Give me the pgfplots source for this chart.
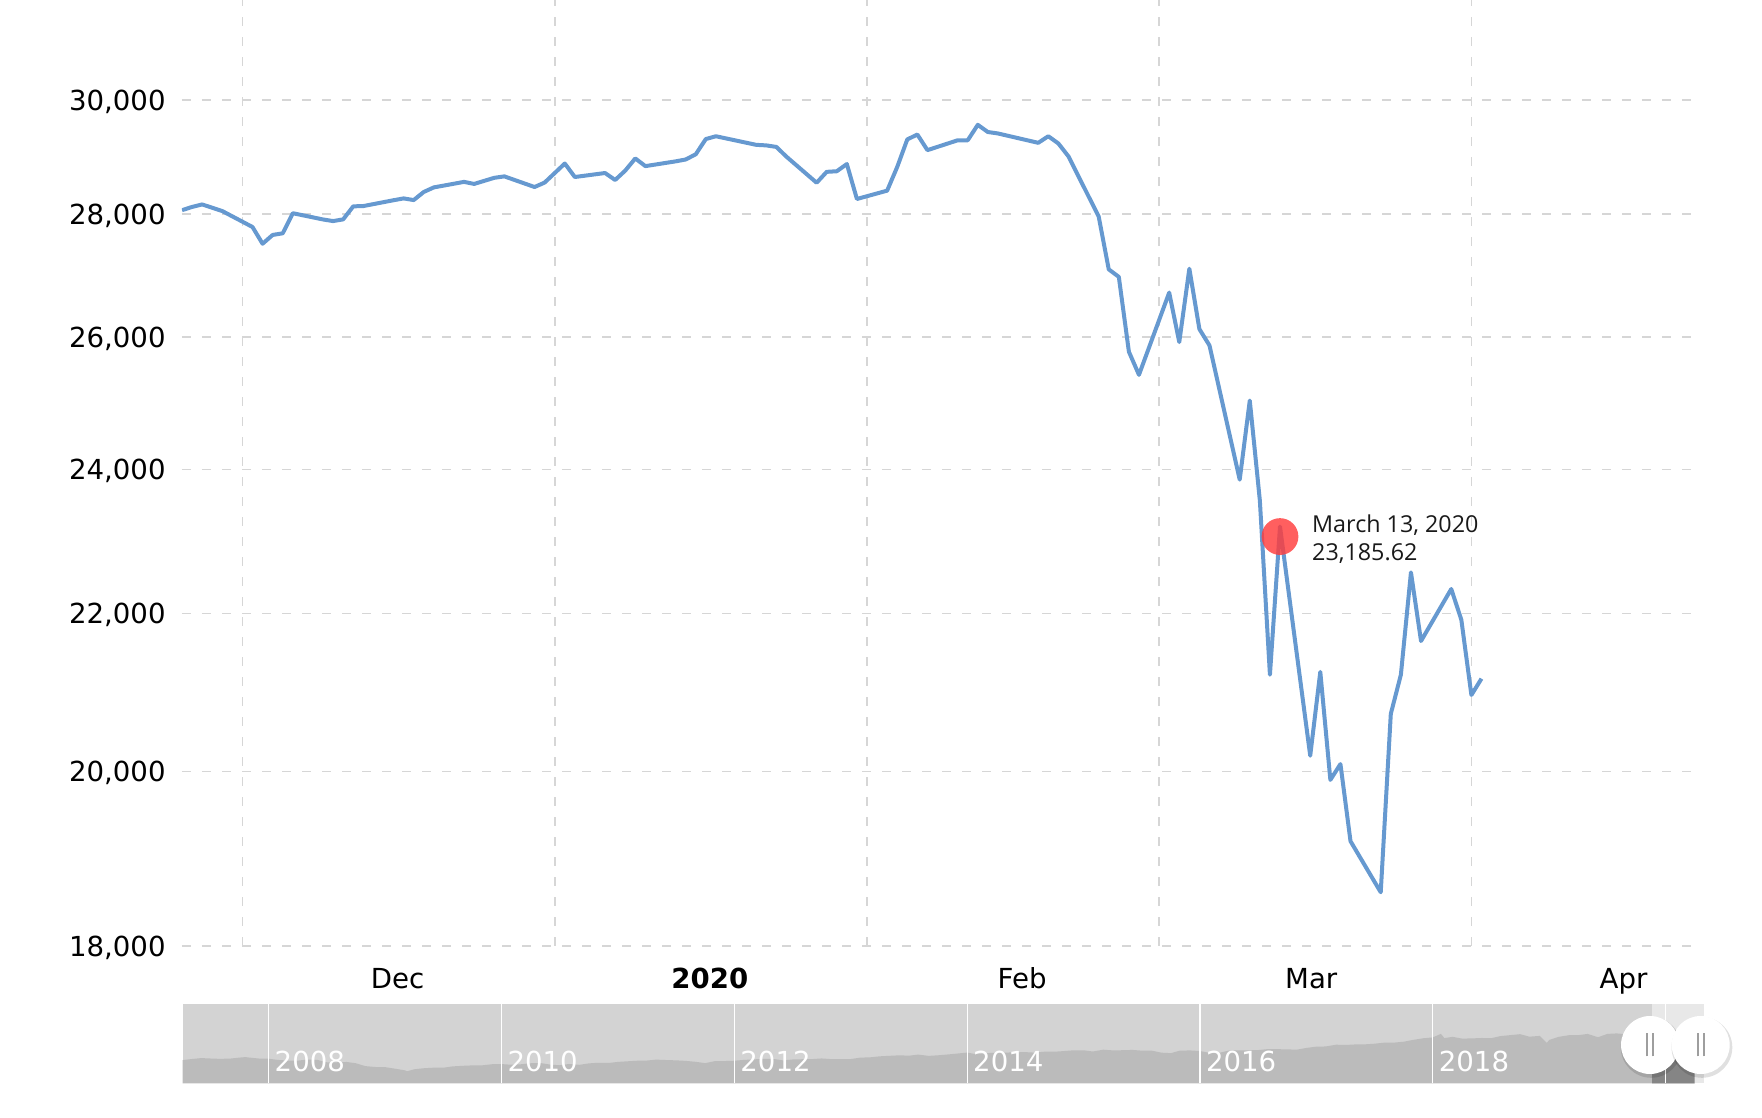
\documentclass[border=0pt]{standalone}
\usepackage{pgfplots}
\pgfplotsset{compat=1.18}
\usepackage{fontspec}
\setmainfont{DejaVu Sans}
\newfontfamily\tipfont{Open Sans}
\definecolor{linecolor}{RGB}{102,153,208}
\definecolor{gridgray}{RGB}{214,214,214}
\definecolor{navbg}{RGB}{211,211,211}
\definecolor{navarea}{RGB}{187,187,187}
\definecolor{selbg}{RGB}{232,232,232}
\definecolor{seldark}{RGB}{133,133,133}
\definecolor{markred}{RGB}{255,60,60}
\newcommand\ticksfont{\fontsize{13.8pt}{16pt}\selectfont}
\begin{document}
\begin{tikzpicture}
\begin{axis}[
  at={(91pt,86pt)}, anchor=south west, scale only axis,
  width=755.5pt, height=473pt,
  xmin=-6, xmax=144,
  ymode=log, ymin=18000, ymax=31869,
  ytick={18000,20000,22000,24000,26000,28000,30000},
  yticklabels={{18,000},{20,000},{22,000},{24,000},{26,000},{28,000},{30,000}},
  xtick={0,31,62,91,122}, xticklabels={},
  extra x ticks={15.4,46.4,77.4,106.1,137.1},
  extra x tick labels={Dec,\textbf{2020},Feb,Mar,Apr},
  extra x tick style={grid=none, xticklabel style={anchor=base, yshift=-21.2pt}},
  grid=major,
  minor y tick num=0,
  major grid style={dash pattern=on 4.5pt off 5.5pt, color=gridgray, line width=0.8pt},
  axis line style={draw=none},
  tick style={draw=none},
  yticklabel style={anchor=east, inner sep=0pt, xshift=-8pt, text depth=0pt},
  tick label style={font=\ticksfont},
]
\addplot[color=linecolor, line width=2pt, line join=round] coordinates {
(-6,28066.47) (-5,28121.68) (-4,28164.00) (-2,28051.41)
(1,27783.04) (2,27502.81) (3,27649.78) (4,27677.79) (5,28015.06)
(8,27909.60) (9,27881.72) (10,27911.30) (11,28132.05) (12,28135.38)
(15,28235.89) (16,28267.16) (17,28239.28) (18,28376.96) (19,28455.09)
(22,28551.53) (23,28515.45) (25,28621.39) (26,28645.26) (29,28462.14) (30,28538.44)
(32,28868.80) (33,28634.88) (36,28703.38) (37,28583.68) (38,28745.09) (39,28956.90) (40,28823.77)
(43,28907.05) (44,28939.67) (45,29030.22) (46,29297.64) (47,29348.10)
(51,29196.04) (52,29186.27) (53,29160.09) (54,28989.73)
(57,28535.80) (58,28722.85) (59,28734.45) (60,28859.44) (61,28256.03)
(64,28399.81) (65,28807.63) (66,29290.85) (67,29379.77) (68,29102.51)
(71,29276.82) (72,29276.34) (73,29551.42) (74,29423.31) (75,29398.08)
(79,29232.19) (80,29348.03) (81,29219.98) (82,28992.41)
(85,27960.80) (86,27081.36) (87,26957.59) (88,25766.64) (89,25409.36)
(92,26703.32) (93,25917.41) (94,27090.86) (95,26121.28) (96,25864.78)
(99,23851.02) (100,25018.16) (101,23553.22) (102,21200.62) (103,23185.62)
(106,20188.52) (107,21237.38) (108,19898.92) (109,20087.19) (110,19173.98)
(113,18591.93) (114,20704.91) (115,21200.55) (116,22552.17) (117,21636.78)
(120,22327.48) (121,21917.16) (122,20943.51) (123,21150.00)
};
\addplot[only marks, color=markred, mark=*, mark size=9.2pt,
  mark options={draw opacity=0, fill=markred, fill opacity=0.82, yshift=-5pt}]
  coordinates {(103,23185.62)};
\node[anchor=west, align=left, inner sep=0pt, xshift=15.9pt, yshift=-6.2pt,
  font=\tipfont\fontsize{11.65pt}{14pt}\selectfont, text=black!90]
  at (axis cs:103,23185.62) {March 13, 2020\\23,185.62};
\end{axis}

\begin{axis}[
  at={(91.25pt,17.25pt)}, anchor=south west, scale only axis,
  width=760.75pt, height=39.75pt,
  xmin=2007.26, xmax=2020.33, ymin=0, ymax=42650,
  axis background/.style={fill=navbg},
  axis line style={draw=none},
  tick style={draw=none},
  ytick=\empty,
  xtick={2008,2010,2012,2014,2016,2018,2020},
  xticklabels={2008,2010,2012,2014,2016,2018,{}},
  xticklabel style={anchor=base west, xshift=2.85pt, yshift=5.95pt, text=white, inner sep=0pt, font=\ticksfont},
  grid=major, major grid style={white, line width=0.6pt},
  axis on top,
]
\addplot[fill=navarea, draw=none] coordinates {
(2007.26,12550) (2007.33,13063) (2007.42,13628) (2007.50,13409) (2007.58,13212) (2007.67,13358)
(2007.75,13896) (2007.80,14165) (2007.83,13930) (2007.92,13372) (2008.00,13265)
(2008.08,12650) (2008.17,12266) (2008.25,12263) (2008.33,12820) (2008.42,12638) (2008.50,11350)
(2008.58,11378) (2008.67,11544) (2008.75,10851) (2008.83,9325) (2008.92,8829) (2009.00,8776)
(2009.08,8001) (2009.17,7063) (2009.19,6547) (2009.25,7609) (2009.33,8168) (2009.42,8500) (2009.50,8447)
(2009.58,9172) (2009.67,9496) (2009.75,9712) (2009.83,9713) (2009.92,10345) (2010.00,10428)
(2010.08,10067) (2010.17,10325) (2010.25,10857) (2010.33,11009) (2010.42,10137) (2010.50,9774)
(2010.58,10466) (2010.67,10015) (2010.75,10788) (2010.83,11118) (2010.92,11006) (2011.00,11578)
(2011.08,11892) (2011.17,12226) (2011.25,12320) (2011.33,12811) (2011.42,12570) (2011.50,12414)
(2011.58,12143) (2011.67,11614) (2011.75,10913) (2011.83,11955) (2011.92,12046) (2012.00,12218)
(2012.08,12633) (2012.17,12952) (2012.25,13212) (2012.33,13214) (2012.42,12393) (2012.50,12880)
(2012.58,13009) (2012.67,13091) (2012.75,13437) (2012.83,13096) (2012.92,13026) (2013.00,13104)
(2013.08,13861) (2013.17,14054) (2013.25,14579) (2013.33,14840) (2013.42,15116) (2013.50,14910)
(2013.58,15500) (2013.67,14810) (2013.75,15130) (2013.83,15546) (2013.92,16086) (2014.00,16577)
(2014.08,15699) (2014.17,16322) (2014.25,16458) (2014.33,16581) (2014.42,16717) (2014.50,16827)
(2014.58,16563) (2014.67,17098) (2014.75,17043) (2014.83,17391) (2014.92,17828) (2015.00,17823)
(2015.08,17165) (2015.17,18133) (2015.25,17776) (2015.33,17841) (2015.42,18011) (2015.50,17620)
(2015.58,17690) (2015.67,16528) (2015.75,16285) (2015.83,17664) (2015.92,17720) (2016.00,17425)
(2016.08,16466) (2016.17,16517) (2016.25,17685) (2016.33,17774) (2016.42,17787) (2016.50,17930)
(2016.58,18432) (2016.67,18401) (2016.75,18308) (2016.83,18142) (2016.92,19124) (2017.00,19763)
(2017.08,19864) (2017.17,20812) (2017.25,20663) (2017.33,20941) (2017.42,21009) (2017.50,21350)
(2017.58,21891) (2017.67,21948) (2017.75,22405) (2017.83,23377) (2017.92,24272) (2018.00,24719)
(2018.07,26617) (2018.10,24345) (2018.17,25029) (2018.25,24103) (2018.33,24163) (2018.42,24416) (2018.50,24271)
(2018.58,25415) (2018.67,25965) (2018.75,26458) (2018.83,25116) (2018.92,25538) (2018.98,21792) (2019.00,23327)
(2019.08,24999) (2019.17,25916) (2019.25,25929) (2019.33,26593) (2019.42,24815) (2019.50,26600)
(2019.58,26864) (2019.67,26403) (2019.75,26917) (2019.83,27046) (2019.92,28051) (2020.00,28538)
(2020.08,28256) (2020.12,29551) (2020.16,25409) (2020.20,21200) (2020.22,18591) (2020.25,21150)
} \closedcycle;
\fill[selbg] (axis cs:2019.884,0) rectangle (axis cs:2020.33,42650);
\addplot[fill=seldark, draw=none] coordinates {
(2019.884,27900) (2019.92,28051) (2020.00,28538) (2020.08,28256) (2020.12,29551)
(2020.16,25409) (2020.20,21200) (2020.22,18591) (2020.25,21150)
} \closedcycle;
\end{axis}

% navigator handles
\foreach \cx in {825pt,850.35pt}{
  \fill[black, opacity=0.12] (\cx+0.6pt,35.3pt) circle (15.2pt);
  \fill[white] (\cx,36.5pt) circle (14.5pt);
  \draw[black!38, line width=0.9pt] (\cx-1.5pt,30.75pt) -- (\cx-1.5pt,42.25pt);
  \draw[black!38, line width=0.9pt] (\cx+1.5pt,30.75pt) -- (\cx+1.5pt,42.25pt);
}
\pgfresetboundingbox
\useasboundingbox (0,0) rectangle (881pt,559pt);
\end{tikzpicture}
\end{document}
